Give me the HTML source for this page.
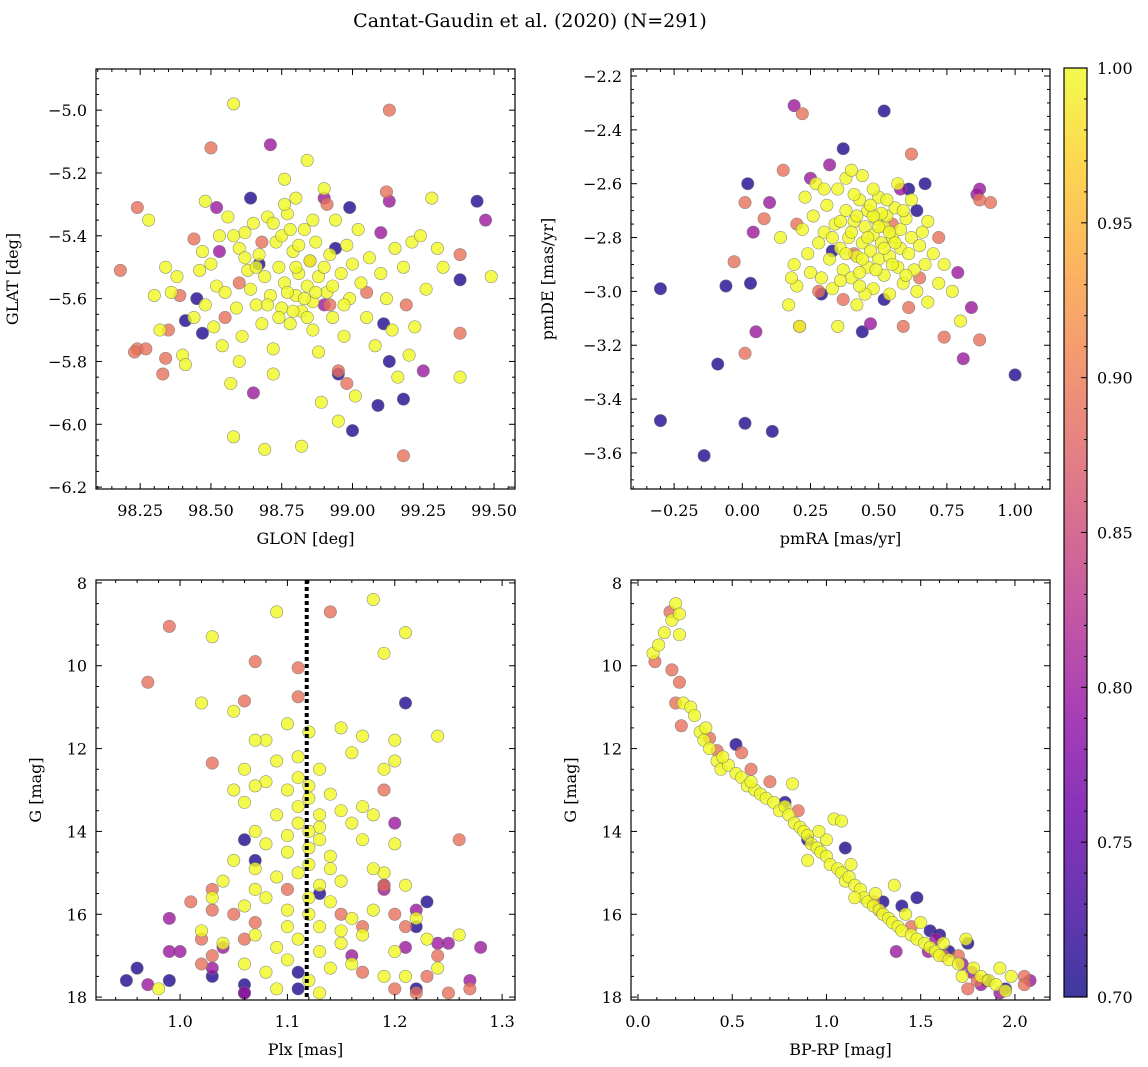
<!DOCTYPE html>
<html><head><meta charset="utf-8">
<style>
html,body{margin:0;padding:0;background:#fff;}
svg{display:block;font-family:"DejaVu Serif","Liberation Serif",serif;}
</style></head>
<body>
<svg id="fig" width="1148" height="1067" viewBox="0 0 1148 1067" xmlns="http://www.w3.org/2000/svg">
<defs>
<linearGradient id="plasma" x1="0" y1="1" x2="0" y2="0">
<stop offset="0" stop-color="#0d0887"/><stop offset="0.1" stop-color="#41049d"/><stop offset="0.2" stop-color="#6a00a8"/><stop offset="0.3" stop-color="#8f0da4"/><stop offset="0.4" stop-color="#b12a90"/><stop offset="0.5" stop-color="#cc4778"/><stop offset="0.6" stop-color="#e16462"/><stop offset="0.7" stop-color="#f2844b"/><stop offset="0.8" stop-color="#fca636"/><stop offset="0.9" stop-color="#fcce25"/><stop offset="1" stop-color="#f0f921"/>
</linearGradient>
</defs>
<text x="530" y="27" font-size="19" text-anchor="middle">Cantat-Gaudin et al. (2020) (N=291)</text>
</svg>
<script>
// ---- data: probability groups ----
const pDark=0.71, pPurple=0.80, pOrange=0.89, pYellow=1.0;
// Top-left: GLON, GLAT
const tlDark=[[98.41,-5.67],[98.45,-5.60],[98.47,-5.71],[98.64,-5.28],[98.99,-5.31],[98.95,-5.84],[99.00,-6.02],[99.09,-5.94],[99.11,-5.68],[99.13,-5.80],[99.18,-5.92],[99.38,-5.54],[99.44,-5.29],[98.67,-5.49],[98.94,-5.44]];
const tlPurple=[[98.52,-5.31],[98.65,-5.90],[98.71,-5.11],[98.53,-5.45],[99.10,-5.39],[99.13,-5.29],[99.25,-5.83],[99.47,-5.35],[98.90,-5.28],[98.90,-5.62]];
const tlOrange=[[98.18,-5.51],[98.24,-5.31],[98.24,-5.76],[98.27,-5.76],[98.23,-5.77],[98.33,-5.84],[98.34,-5.79],[98.35,-5.70],[98.39,-5.59],[98.44,-5.41],[98.50,-5.12],[98.55,-5.66],[98.60,-5.55],[98.68,-5.42],[98.91,-5.30],[98.98,-5.87],[99.12,-5.26],[99.13,-5.00],[99.19,-5.62],[99.18,-6.10],[99.38,-5.46],[99.38,-5.71],[98.92,-5.62],[98.95,-5.83],[98.85,-5.48],[99.05,-5.58]];
const tlYellow=[[98.28,-5.35],[98.30,-5.59],[98.32,-5.70],[98.36,-5.58],[98.38,-5.53],[98.40,-5.78],[98.41,-5.81],[98.44,-5.66],[98.46,-5.51],[98.47,-5.45],[98.48,-5.62],[98.50,-5.49],[98.51,-5.69],[98.52,-5.56],[98.53,-5.40],[98.54,-5.75],[98.55,-5.58],[98.56,-5.34],[98.57,-5.87],[98.58,-4.98],[98.58,-6.04],[98.59,-5.63],[98.60,-5.44],[98.61,-5.72],[98.62,-5.39],[98.63,-5.51],[98.64,-5.57],[98.65,-5.36],[98.66,-5.62],[98.67,-5.46],[98.68,-5.68],[98.69,-5.53],[98.69,-6.08],[98.70,-5.34],[98.71,-5.59],[98.72,-5.76],[98.73,-5.42],[98.74,-5.50],[98.75,-5.63],[98.76,-5.22],[98.76,-5.55],[98.77,-5.33],[98.78,-5.68],[98.79,-5.45],[98.80,-5.59],[98.80,-5.28],[98.81,-5.52],[98.82,-5.64],[98.82,-6.07],[98.83,-5.38],[98.84,-5.56],[98.84,-5.16],[98.85,-5.48],[98.86,-5.61],[98.86,-5.70],[98.87,-5.42],[98.88,-5.77],[98.88,-5.53],[98.89,-5.93],[98.90,-5.25],[98.91,-5.58],[98.92,-5.46],[98.93,-5.66],[98.94,-5.35],[98.95,-5.99],[98.96,-5.52],[98.97,-5.72],[98.98,-5.43],[98.99,-5.60],[99.00,-5.49],[99.01,-5.91],[99.02,-5.38],[99.03,-5.55],[99.05,-5.66],[99.06,-5.47],[99.08,-5.75],[99.10,-5.52],[99.12,-5.60],[99.15,-5.44],[99.16,-5.85],[99.18,-5.50],[99.20,-5.78],[99.21,-5.42],[99.22,-5.69],[99.24,-5.40],[99.26,-5.57],[99.28,-5.28],[99.30,-5.44],[99.32,-5.50],[99.38,-5.85],[99.49,-5.53],[98.34,-5.50],[98.48,-5.29],[98.72,-5.84],[98.60,-5.80],[99.14,-5.70],
[98.72,-5.36],[98.75,-5.40],[98.78,-5.38],[98.80,-5.50],[98.83,-5.60],[98.77,-5.58],[98.74,-5.66],[98.70,-5.62],[98.66,-5.50],[98.81,-5.43],[98.87,-5.58],[98.84,-5.66],[98.79,-5.64],[98.90,-5.50],[98.93,-5.56],[98.62,-5.47],[98.58,-5.40],[98.76,-5.30],[98.86,-5.35],[98.97,-5.62]];
// Top-right: pmRA, pmDE
const trDark=[[-0.30,-2.99],[-0.30,-3.48],[-0.14,-3.61],[-0.06,-2.98],[-0.09,-3.27],[0.01,-3.49],[0.02,-2.60],[0.03,-2.97],[0.11,-3.52],[0.37,-2.47],[0.52,-2.33],[0.61,-2.62],[0.67,-2.60],[1.00,-3.31],[0.44,-3.15],[0.33,-2.85],[0.29,-3.01],[0.52,-3.03],[0.64,-2.70]];
const trPurple=[[0.19,-2.31],[0.05,-3.15],[0.04,-2.78],[0.32,-2.53],[0.58,-2.62],[0.79,-2.93],[0.84,-3.06],[0.87,-2.62],[0.86,-2.64],[0.81,-3.25],[0.47,-3.12],[0.25,-2.58],[0.10,-2.67]];
const trOrange=[[0.22,-2.34],[0.15,-2.55],[0.01,-2.67],[0.01,-3.23],[-0.03,-2.89],[0.08,-2.73],[0.21,-3.13],[0.37,-3.03],[0.55,-2.75],[0.62,-2.49],[0.72,-2.80],[0.74,-3.17],[0.87,-3.18],[0.91,-2.67],[0.87,-2.66],[0.61,-3.06],[0.59,-3.13],[0.41,-2.86],[0.28,-3.00],[0.20,-2.75],[0.65,-2.95]];
const trYellow=[[0.14,-2.80],[0.17,-3.05],[0.19,-2.90],[0.20,-2.98],[0.21,-3.13],[0.22,-2.77],[0.23,-2.65],[0.24,-2.86],[0.25,-2.93],[0.26,-2.72],[0.27,-2.60],[0.28,-2.82],[0.29,-2.95],[0.30,-2.78],[0.31,-2.68],[0.32,-2.88],[0.33,-2.99],[0.34,-2.75],[0.35,-2.62],[0.35,-3.13],[0.36,-2.84],[0.37,-2.92],[0.38,-2.70],[0.38,-2.58],[0.39,-2.80],[0.40,-2.95],[0.41,-2.74],[0.42,-2.87],[0.42,-3.05],[0.43,-2.66],[0.44,-2.57],[0.44,-2.82],[0.45,-2.76],[0.46,-2.91],[0.46,-2.70],[0.47,-2.85],[0.48,-2.79],[0.48,-2.99],[0.49,-2.73],[0.50,-2.88],[0.50,-2.65],[0.51,-2.82],[0.52,-2.94],[0.52,-2.76],[0.53,-2.72],[0.54,-2.87],[0.54,-3.01],[0.55,-2.80],[0.56,-2.69],[0.57,-2.91],[0.58,-2.77],[0.58,-2.84],[0.59,-2.97],[0.60,-2.73],[0.61,-2.86],[0.62,-2.80],[0.63,-2.92],[0.64,-3.00],[0.65,-2.83],[0.66,-2.78],[0.67,-2.90],[0.68,-3.04],[0.70,-2.86],[0.72,-2.97],[0.74,-2.90],[0.77,-3.00],[0.80,-3.11],[0.40,-2.55],[0.48,-2.62],[0.57,-2.60],[0.30,-2.62],[0.36,-2.74],[0.43,-2.93],[0.51,-2.71],[0.45,-3.01],[0.62,-2.66],[0.18,-2.95],[0.68,-2.74],
[0.40,-2.78],[0.42,-2.72],[0.44,-2.88],[0.46,-2.80],[0.48,-2.72],[0.50,-2.76],[0.52,-2.84],[0.54,-2.78],[0.56,-2.82],[0.38,-2.86],[0.43,-2.98],[0.49,-2.92],[0.55,-2.90],[0.59,-2.70],[0.47,-2.68],[0.33,-2.80],[0.36,-2.96],[0.60,-2.94],[0.53,-2.66],[0.41,-2.64]];
// Bottom-left: Plx, G
const blDark=[[0.95,17.6],[0.96,17.3],[0.99,17.6],[1.03,17.5],[1.06,17.7],[1.06,17.9],[1.06,14.2],[1.07,14.7],[1.11,17.4],[1.21,10.9],[1.19,15.3],[1.22,16.3],[1.23,15.7],[1.22,17.8],[1.13,15.5],[1.11,17.8]];
const blPurple=[[0.99,16.1],[1.00,16.9],[0.99,16.9],[0.97,17.7],[1.04,16.8],[1.06,17.9],[1.20,13.8],[1.22,15.9],[1.24,16.7],[1.25,16.7],[1.27,17.6],[1.28,16.8],[1.19,15.4],[1.16,17.0],[1.21,16.8],[1.03,17.3]];
const blOrange=[[0.99,9.05],[0.97,10.4],[1.07,9.9],[1.14,8.7],[1.11,10.05],[1.11,10.75],[1.06,10.85],[1.03,12.35],[1.19,13.0],[1.26,14.2],[1.01,15.7],[1.03,15.4],[1.03,15.9],[1.05,16.0],[1.02,16.6],[1.03,17.0],[1.06,16.6],[1.17,16.3],[1.19,15.3],[1.20,16.0],[1.21,16.3],[1.20,17.8],[1.22,17.9],[1.25,17.9],[1.27,17.8],[1.17,17.4],[1.24,17.0],[1.15,16.0],[1.07,16.2],[1.10,15.4],[1.02,17.2],[1.23,17.5]];
const blYellow=[[1.18,8.4],[1.09,8.7],[1.03,9.3],[1.21,9.2],[1.19,9.7],[1.24,11.7],[1.02,10.9],[1.05,11.1],[1.08,11.8],[1.07,11.8],[1.10,11.4],[1.12,11.6],[1.15,11.5],[1.17,11.7],[1.20,11.8],[1.06,12.5],[1.09,12.3],[1.11,12.2],[1.13,12.5],[1.16,12.1],[1.19,12.5],[1.20,12.3],[1.08,12.8],[1.07,12.9],[1.10,13.0],[1.12,13.2],[1.14,13.1],[1.17,13.4],[1.05,13.0],[1.06,13.3],[1.09,13.6],[1.11,13.8],[1.13,13.9],[1.16,13.8],[1.18,13.6],[1.07,14.0],[1.08,14.3],[1.10,14.5],[1.12,14.4],[1.14,14.6],[1.17,14.2],[1.20,14.3],[1.05,14.7],[1.07,14.9],[1.09,15.1],[1.11,15.0],[1.13,15.3],[1.15,15.2],[1.19,15.0],[1.21,15.3],[1.04,15.2],[1.03,15.6],[1.06,15.8],[1.08,15.6],[1.10,15.9],[1.12,16.0],[1.14,15.7],[1.16,16.1],[1.18,15.9],[1.22,16.1],[1.02,16.4],[1.04,16.7],[1.07,16.5],[1.09,16.8],[1.11,16.6],[1.13,16.9],[1.15,16.7],[1.17,16.5],[1.20,16.9],[1.23,16.6],[1.26,16.5],[1.06,17.2],[1.08,17.4],[1.10,17.1],[1.12,17.6],[1.14,17.3],[1.16,17.2],[1.19,17.5],[1.21,17.5],[1.24,17.3],[1.09,17.8],[1.13,17.9],[1.07,15.4],[1.12,14.0],[1.15,13.5],[1.11,12.7],[1.10,16.3],[1.18,14.9],[0.98,17.8],
[1.12,12.9],[1.13,13.6],[1.12,14.8],[1.13,14.2],[1.12,15.6],[1.13,16.3],[1.11,13.4],[1.14,14.9],[1.10,14.1],[1.15,16.4]];
const blPlxMean=1.118;
// Bottom-right: BP-RP, G
const brDark=[[0.52,11.9],[0.78,13.3],[0.90,14.2],[1.10,14.4],[1.40,15.8],[1.48,15.6],[1.55,16.4],[1.60,16.5],[1.65,16.9],[1.75,16.7],[1.85,17.6],[1.95,17.8],[1.30,15.7]];
const brPurple=[[1.37,16.9],[1.54,16.9],[1.72,17.2],[1.77,17.4],[1.82,17.7],[1.92,17.9],[2.08,17.6],[1.58,16.6],[1.28,15.9]];
const brOrange=[[0.09,9.9],[0.17,8.7],[0.18,10.1],[0.22,10.4],[0.20,10.9],[0.23,11.45],[0.38,11.75],[0.42,12.05],[0.55,12.1],[0.60,12.5],[0.70,12.8],[0.85,13.5],[1.25,15.7],[1.45,16.3],[1.62,17.0],[1.75,17.8],[1.80,17.6],[2.05,17.5],[2.05,17.7],[1.70,17.0]];
const brYellow=[[0.08,9.7],[0.11,9.5],[0.14,9.2],[0.18,8.9],[0.20,8.5],[0.22,8.75],[0.22,9.25],[0.24,10.9],[0.28,11.0],[0.30,11.2],[0.33,11.6],[0.35,11.8],[0.38,12.0],[0.42,12.3],[0.44,12.5],[0.48,12.4],[0.52,12.6],[0.55,12.7],[0.58,12.9],[0.62,13.0],[0.65,13.1],[0.68,13.2],[0.72,13.3],[0.75,13.5],[0.78,13.4],[0.80,13.6],[0.82,12.85],[0.83,13.8],[0.86,13.9],[0.88,14.0],[0.90,14.1],[0.92,14.3],[0.95,14.4],[0.97,14.5],[1.00,14.6],[1.02,14.8],[1.04,13.7],[1.08,13.75],[1.06,14.9],[1.08,15.0],[1.10,15.2],[1.12,15.1],[1.15,15.3],[1.18,15.4],[1.20,15.6],[1.22,15.7],[1.25,15.8],[1.28,15.9],[1.30,16.0],[1.33,16.1],[1.36,15.3],[1.35,16.2],[1.38,16.3],[1.40,16.4],[1.42,16.0],[1.45,16.5],[1.48,16.6],[1.52,16.7],[1.55,16.8],[1.58,16.9],[1.60,17.0],[1.65,17.1],[1.70,17.2],[1.74,16.6],[1.78,17.3],[1.82,17.5],[1.86,17.6],[1.90,17.7],[1.98,17.5],[1.95,17.85],[0.90,14.7],[1.00,14.2],[1.13,14.8],[1.26,15.5],[1.50,16.2],[1.62,16.7],[0.60,12.8],[0.45,12.2],[0.36,11.5],[1.92,17.3],[1.72,17.5],[1.15,15.6],[0.96,14.0]];
// tick labels
const tlXTicks=[98.25,98.5,98.75,99.0,99.25,99.5];
const tlYTicks=[-5.0,-5.2,-5.4,-5.6,-5.8,-6.0,-6.2];
const trXTicks=[-0.25,0.0,0.25,0.5,0.75,1.0];
const trYTicks=[-2.2,-2.4,-2.6,-2.8,-3.0,-3.2,-3.4,-3.6];
const blXTicks=[1.0,1.1,1.2,1.3];
const gTicks=[8,10,12,14,16,18];
const brXTicks=[0.0,0.5,1.0,1.5,2.0];
const cbTicks=[0.70,0.75,0.80,0.85,0.90,0.95,1.00];

const NS='http://www.w3.org/2000/svg';
const svg=document.getElementById('fig');
function el(tag,attrs,parent){const e=document.createElementNS(NS,tag);for(const k in attrs)e.setAttribute(k,attrs[k]);(parent||svg).appendChild(e);return e;}
const stops=['#0d0887','#41049d','#6a00a8','#8f0da4','#b12a90','#cc4778','#e16462','#f2844b','#fca636','#fcce25','#f0f921'];
function hex(h){return [1,3,5].map(i=>parseInt(h.substr(i,2),16));}
function plasma(p){let t=Math.max(0,Math.min(1,(p-0.7)/0.3))*10;const i=Math.min(9,Math.floor(t)),f=t-i;const a=hex(stops[i]),b=hex(stops[i+1]);return 'rgb('+a.map((v,k)=>Math.round(v+(b[k]-v)*f)).join(',')+')';}
function fmt(v,d){return v.toFixed(d).replace('-','\u2212');}

function panel(o){
  const g=el('g',{});
  
  
  const sx=v=>o.x0+(v-o.xmin)/(o.xmax-o.xmin)*(o.x1-o.x0);
  const sy=v=>o.y1-(v-o.ymin)/(o.ymax-o.ymin)*(o.y1-o.y0);
  const clip='clip-'+o.name;
  const cp=el('clipPath',{id:clip},g);el('rect',{x:o.x0,y:o.y0,width:o.x1-o.x0,height:o.y1-o.y0},cp);
  const pts=el('g',{'clip-path':'url(#'+clip+')'},g);
  
  
  o.groups.forEach(([arr,p])=>{
    arr.forEach(d=>{
      const c=el('circle',{cx:sx(d[0]),cy:sy(d[1]),r:6.2,fill:plasma(p),'fill-opacity':0.8,stroke:'#777','stroke-width':0.6,'stroke-opacity':0.8},pts);
      
      
    });
  });
  if(o.vline!==undefined){
    const l=el('line',{x1:sx(o.vline),x2:sx(o.vline),y1:o.y0,y2:o.y1,stroke:'#000','stroke-width':4,'stroke-dasharray':'4,3'},g);
    
    
  }
  const fr=el('rect',{x:o.x0,y:o.y0,width:o.x1-o.x0,height:o.y1-o.y0,fill:'none',stroke:'#000','stroke-width':1.2},g);
  
  
  const xt=o.xTicks, xs=(xt[1]-xt[0])/o.xMinor;
  for(let v=xt[0]-xs*Math.ceil((xt[0]-o.xmin)/xs);v<=o.xmax+1e-9;v+=xs){
    if(v<o.xmin-1e-9)continue;const X=sx(v);
    const major=xt.some(t=>Math.abs(t-v)<xs/10);const L=major?6:3;
    el('line',{x1:X,x2:X,y1:o.y1,y2:o.y1-L,stroke:'#000','stroke-width':1},g);
    el('line',{x1:X,x2:X,y1:o.y0,y2:o.y0+L,stroke:'#000','stroke-width':1},g);
  }
  xt.forEach(v=>{const t=el('text',{x:sx(v),y:o.y1+27,'font-size':16,'text-anchor':'middle'},g);t.textContent=fmt(v,o.xd);
    });
  const yt=o.yTicks, ys=Math.abs(yt[1]-yt[0])/o.yMinor, ylo=Math.min(...yt);
  for(let v=ylo-ys*Math.ceil((ylo-o.ymin)/ys);v<=o.ymax+1e-9;v+=ys){
    if(v<o.ymin-1e-9)continue;const Y=sy(v);
    const major=yt.some(t=>Math.abs(t-v)<ys/10);const L=major?6:3;
    el('line',{x1:o.x0,x2:o.x0+L,y1:Y,y2:Y,stroke:'#000','stroke-width':1},g);
    el('line',{x1:o.x1,x2:o.x1-L,y1:Y,y2:Y,stroke:'#000','stroke-width':1},g);
  }
  yt.forEach(v=>{const t=el('text',{x:o.x0-9,y:sy(v)+6,'font-size':16,'text-anchor':'end'},g);t.textContent=fmt(v,o.yd);
    });
  const xl=el('text',{x:(o.x0+o.x1)/2,y:o.y1+55,'font-size':16,'text-anchor':'middle'},g);xl.textContent=o.xlabel;
  
  const cy=(o.y0+o.y1)/2, lx=o.x0-o.ylOff;
  const yl=el('text',{x:lx,y:cy,'font-size':16,'text-anchor':'middle',transform:'rotate(-90 '+lx+' '+cy+')'},g);yl.textContent=o.ylabel;
  
}
const groupsOf=(d,pu,o,y)=>[[d,pDark],[pu,pPurple],[o,pOrange],[y,pYellow]];
panel({name:'glon-glat-panel',x0:96,x1:515,y0:69,y1:489,xmin:98.094,xmax:99.574,ymin:-6.206,ymax:-4.869,xTicks:tlXTicks,xMinor:5,xd:2,yTicks:tlYTicks,yMinor:4,yd:1,xlabel:'GLON [deg]',ylabel:'GLAT [deg]',ylOff:78,groups:groupsOf(tlDark,tlPurple,tlOrange,tlYellow)});
panel({name:'pm-panel',x0:631,x1:1050,y0:69,y1:489,xmin:-0.408,xmax:1.128,ymin:-3.734,ymax:-2.174,xTicks:trXTicks,xMinor:5,xd:2,yTicks:trYTicks,yMinor:4,yd:1,xlabel:'pmRA [mas/yr]',ylabel:'pmDE [mas/yr]',ylOff:78,groups:groupsOf(trDark,trPurple,trOrange,trYellow)});
panel({name:'plx-g-panel',x0:96,x1:515,y0:580,y1:1000,xmin:0.9217,xmax:1.312,ymin:-18.07,ymax:-7.93,xTicks:blXTicks,xMinor:5,xd:1,yTicks:gTicks.map(v=>-v),yMinor:4,yd:0,xlabel:'Plx [mas]',ylabel:'G [mag]',ylOff:55,vline:blPlxMean,
  groups:groupsOf(blDark,blPurple,blOrange,blYellow).map(([a,p])=>[a.map(d=>[d[0],-d[1]]),p])});
panel({name:'cmd-panel',x0:631,x1:1050,y0:580,y1:1000,xmin:-0.037,xmax:2.186,ymin:-18.07,ymax:-7.93,xTicks:brXTicks,xMinor:5,xd:1,yTicks:gTicks.map(v=>-v),yMinor:4,yd:0,xlabel:'BP-RP [mag]',ylabel:'G [mag]',ylOff:55,
  groups:groupsOf(brDark,brPurple,brOrange,brYellow).map(([a,p])=>[a.map(d=>[d[0],-d[1]]),p])});
document.querySelectorAll('text').forEach(t=>{if(/^\u2212(8|10|12|14|16|18)$/.test(t.textContent))t.textContent=t.textContent.slice(1);});
const cb=el('g',{});


const cx0=1064,cx1=1087,cy0=68,cy1=997;
el('rect',{x:cx0,y:cy0,width:cx1-cx0,height:cy1-cy0,fill:'url(#plasma)','fill-opacity':0.8},cb);
el('rect',{x:cx0,y:cy0,width:cx1-cx0,height:cy1-cy0,fill:'none',stroke:'#000','stroke-width':1.2},cb);
const cby=v=>cy1-(v-0.7)/0.3*(cy1-cy0);
for(let i=0;i<=30;i++){const v=0.7+i*0.01,Y=cby(v),maj=i%5===0;
  el('line',{x1:cx1,x2:cx1-(maj?6:3),y1:Y,y2:Y,stroke:'#000','stroke-width':1},cb);}
cbTicks.forEach(v=>{const t=el('text',{x:cx1+10,y:cby(v)+6,'font-size':16},cb);t.textContent=v.toFixed(2);
  });
</script>
</body></html>
